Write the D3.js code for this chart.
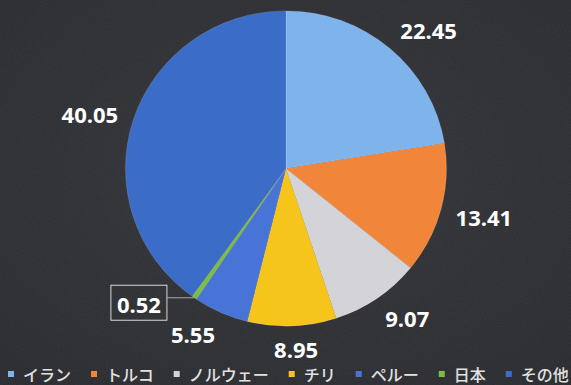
<!DOCTYPE html>
<html><head><meta charset="utf-8">
<script src="https://cdn.jsdelivr.net/npm/d3@7"></script>
<style>html,body{margin:0;padding:0;background:#2e2f33;}svg{display:block;}</style>
</head><body>
<script>
const categories = ["イラン", "トルコ", "ノルウェー", "チリ", "ペルー", "日本", "その他"];
const values = [22.45, 13.41, 9.07, 8.95, 5.55, 0.52, 40.05];
const labels = ["22.45", "13.41", "9.07", "8.95", "5.55", "0.52", "40.05"];
const colors = ["#7eb3ec", "#f1853a", "#d3d3d8", "#f6c51c", "#4774d6", "#7dbd45", "#3b6cc8"];

// layout constants (label angle nudges in degrees, as placed in the original)
const labelNudgeDeg = [5, -1, -4, -1, 5, 12, -2];

const W = 571, H = 385;
const cx = 286, cy = 168.5, R = 160.5, sy = 0.982;

const svg = d3.select("body").append("svg").attr("width", W).attr("height", H);
const defs = svg.append("defs");
const rg = defs.append("radialGradient").attr("id", "bg").attr("cx", "50%").attr("cy", "45%").attr("r", "75%");
rg.append("stop").attr("offset", "0%").attr("stop-color", "#333439");
rg.append("stop").attr("offset", "100%").attr("stop-color", "#28292d");
const f = defs.append("filter").attr("id", "grain").attr("x", 0).attr("y", 0).attr("width", "100%").attr("height", "100%");
f.append("feTurbulence").attr("type", "fractalNoise").attr("baseFrequency", 0.9).attr("numOctaves", 2).attr("seed", 3).attr("result", "n");
f.append("feColorMatrix").attr("in", "n").attr("type", "matrix")
  .attr("values", "0 0 0 0 1  0 0 0 0 1  0 0 0 0 1  0 0 0 0.06 0");
svg.append("rect").attr("width", W).attr("height", H).attr("fill", "url(#bg)");
svg.append("rect").attr("width", W).attr("height", H).attr("filter", "url(#grain)");

const pie = d3.pie().sort(null).value(d => d)(values);
const arc = d3.arc().innerRadius(0).outerRadius(R);
const g = svg.append("g").attr("transform", `translate(${cx},${cy}) scale(1,${sy})`);

g.selectAll("path.slice").data(pie).join("path")
  .attr("class", "slice")
  .attr("d", arc)
  .attr("fill", (d, i) => colors[i])
  .attr("stroke", "rgba(255,255,255,0.22)").attr("stroke-width", 0.6);

// labels
const font = "'Open Sans', 'DejaVu Sans', sans-serif";
const lab = svg.append("g").attr("transform", `translate(${cx},${cy})`);
pie.forEach((d, i) => {
  const mid = (d.startAngle + d.endAngle) / 2;
  const a = mid + labelNudgeDeg[i] * Math.PI / 180;
  const t = lab.append("text").text(labels[i])
    .attr("font-family", font).attr("font-weight", 700).attr("font-size", 22)
    .attr("fill", "#ffffff").attr("text-anchor", "middle").attr("dominant-baseline", "central");
  const w = t.node().getComputedTextLength(), h = 16;
  if (values[i] < 2) {
    // small slice: boxed callout with leader line
    const lr = R + 41;
    const x = lr * Math.sin(a), y = -lr * Math.cos(a) * sy;
    t.attr("x", x).attr("y", y);
    const bw = w + 12, bh = 35;
    lab.append("rect").attr("x", x - bw / 2).attr("y", y - bh / 2 - 1).attr("width", bw).attr("height", bh)
      .attr("fill", "none").attr("stroke", "#d8d8d8").attr("stroke-width", 1);
    const px = R * Math.sin(mid), py = -R * Math.cos(mid) * sy;
    lab.append("line").attr("x1", x + bw / 2).attr("y1", y - 6).attr("x2", px).attr("y2", py)
      .attr("stroke", "#a8a8a8").attr("stroke-width", 1);
  } else {
    const off = R + 14 + Math.abs(Math.sin(a)) * w / 2 + Math.abs(Math.cos(a)) * h / 2;
    t.attr("x", off * Math.sin(a)).attr("y", -off * Math.cos(a) * sy);
  }
});

// legend
const leg = svg.append("g").attr("transform", "translate(8,374)");
let lx = 0;
categories.forEach((c, i) => {
  leg.append("rect").attr("x", lx).attr("y", -3).attr("width", 6).attr("height", 6).attr("fill", colors[i]);
  const t = leg.append("text").attr("x", lx + 15).attr("y", 0).text(c)
    .attr("font-family", "'Noto Sans CJK JP', sans-serif").attr("font-size", 16).attr("font-weight", 500)
    .attr("fill", "#e2e2e2").attr("dominant-baseline", "central");
  lx += 15 + t.node().getComputedTextLength() + 20;
});
</script>
</body></html>
